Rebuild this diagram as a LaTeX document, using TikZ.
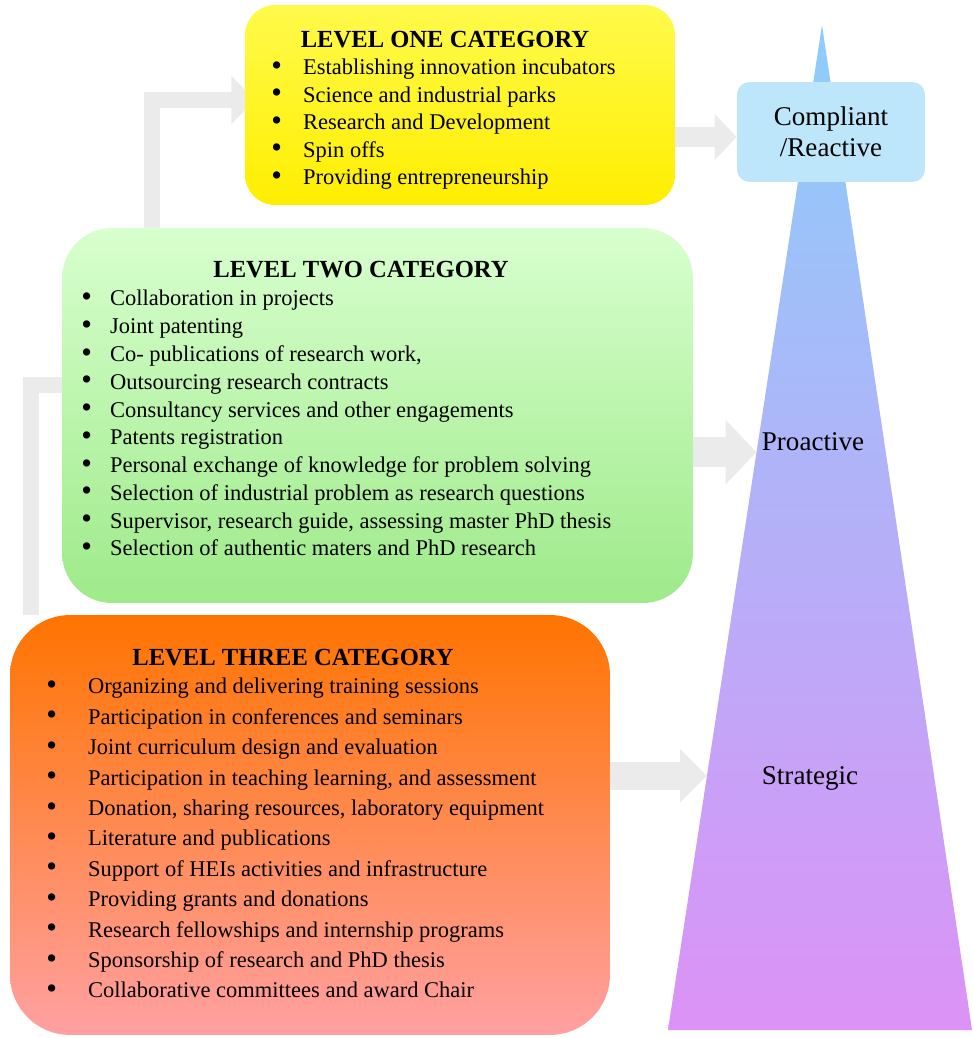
\documentclass[tikz,border=0pt]{standalone}
\usepackage{fontspec}
\setmainfont{Liberation Serif}
\usetikzlibrary{arrows.meta,backgrounds,calc}

\definecolor{flowgray}{RGB}{235,235,235}
\definecolor{onetop}{RGB}{255,250,75}
\definecolor{onebot}{RGB}{255,238,0}
\definecolor{twotop}{RGB}{216,255,206}
\definecolor{twobot}{RGB}{158,234,138}
\definecolor{threetop}{RGB}{255,116,0}
\definecolor{threebot}{RGB}{255,160,162}
\definecolor{compfill}{RGB}{190,230,250}
\definecolor{tritop}{RGB}{140,206,250}
\definecolor{trimid}{RGB}{176,180,255}
\definecolor{tribot}{RGB}{220,146,246}

\newlength\bulw
\newcommand{\bul}[1]{\makebox[\bulw][l]{\raisebox{-0.3pt}{\scalebox{1.35}{\textbullet}}}#1}

\begin{document}
\begin{tikzpicture}[x=0.02cm,y=-0.02cm,
	levelbox/.style={inner sep=0pt},
	title/.style={font=\fontsize{14}{16}\selectfont\bfseries, inner sep=0pt},
	list/.style 2 args={font=\fontsize{12.8}{#1}\selectfont, execute at begin node={\setlength\bulw{#2}},
		align=left, anchor=north west, inner sep=0pt},
	stage/.style={font=\fontsize{15.4}{17.6}\selectfont, align=center, inner sep=0pt},
	flow/.style={draw=flowgray, line width=#1}]

\useasboundingbox (0,0) rectangle (973,1038);

% pyramid
\coordinate (apex) at (822,25);
\coordinate (baseL) at (668,1030);
\coordinate (baseR) at (972,1030);
\coordinate (hitTwo) at ($(apex)!0.425!(baseL)$);
\coordinate (hitThree) at ($(apex)!0.747!(baseL)$);
\shade[top color=tritop, middle color=trimid, bottom color=tribot] (apex) -- (baseL) -- (baseR) -- cycle;

% level boxes
\node[levelbox, rounded corners=0.6cm, top color=onetop, bottom color=onebot,
	minimum width=8.6cm, minimum height=4cm]	(one)	at (460,105)	{};
\node[levelbox, rounded corners=1cm, top color=twotop, bottom color=twobot,
	minimum width=12.62cm, minimum height=7.5cm]	(two)	at (377.5,415.5)	{};
\node[levelbox, rounded corners=1.2cm, top color=threetop, bottom color=threebot,
	minimum width=12cm, minimum height=8.4cm]	(three)	at (310,825)	{};
\node[levelbox, rounded corners=0.25cm, fill=compfill,
	minimum width=3.76cm, minimum height=2cm, stage]	(comp)	at (831,132)	{Compliant\\/Reactive};

% titles and lists
\node[title]	(oneTitle)	at (445,40)	{LEVEL ONE CATEGORY};
\node[list={15.6pt}{18.1pt}]	(oneList)	at (271,59)	{%
	\bul{Establishing innovation incubators}\\
	\bul{Science and industrial parks}\\
	\bul{Research and Development}\\
	\bul{Spin offs}\\
	\bul{Providing entrepreneurship}};

\node[title]	(twoTitle)	at (361,270)	{LEVEL TWO CATEGORY};
\node[list={15.8pt}{16.4pt}]	(twoList)	at (81,290)	{%
	\bul{Collaboration in projects}\\
	\bul{Joint patenting}\\
	\bul{Co- publications of research work,}\\
	\bul{Outsourcing research contracts}\\
	\bul{Consultancy services and other engagements}\\
	\bul{Patents registration}\\
	\bul{Personal exchange of knowledge for problem solving}\\
	\bul{Selection of industrial problem as research questions}\\
	\bul{Supervisor, research guide, assessing master PhD thesis}\\
	\bul{Selection of authentic maters and PhD research}};

\node[title]	(threeTitle)	at (293,658)	{LEVEL THREE CATEGORY};
\node[list={17.3pt}{23.8pt}]	(threeList)	at (46,678)	{%
	\bul{Organizing and delivering training sessions}\\
	\bul{Participation in conferences and seminars}\\
	\bul{Joint curriculum design and evaluation}\\
	\bul{Participation in teaching learning, and assessment}\\
	\bul{Donation, sharing resources, laboratory equipment}\\
	\bul{Literature and publications}\\
	\bul{Support of HEIs activities and infrastructure}\\
	\bul{Providing grants and donations}\\
	\bul{Research fellowships and internship programs}\\
	\bul{Sponsorship of research and PhD thesis}\\
	\bul{Collaborative committees and award Chair}};

% stages
\node[stage]	(proact)	at (813,442)	{Proactive};
\node[stage]	(strat)	at (810,778)	{Strategic};

% grey arrows
\begin{scope}[on background layer]
\draw[flow=9.6pt] (three.north -| 31,0) |- (two.west |- 0,385);
\draw[flow=9.6pt, -{Triangle[length=13.6pt,width=26.6pt]}, shorten >=-6pt]
	(two.north -| 152,0) |- (one.west |- 0,100);
\draw[flow=11.3pt, -{Triangle[length=12.5pt,width=25.5pt]}] (one.east |- 0,137) -- (comp.west |- 0,137);
\draw[flow=17pt, -{Triangle[length=17.6pt,width=35.7pt]}] (two.east |- hitTwo) -- (hitTwo);
\draw[flow=15.9pt, -{Triangle[length=15.3pt,width=29.5pt]}] (three.east |- hitThree) -- (hitThree);
\end{scope}
\end{tikzpicture}
\end{document}
